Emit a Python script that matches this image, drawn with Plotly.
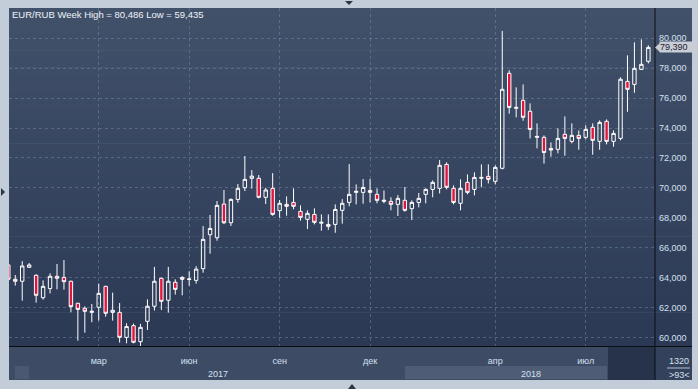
import pandas as pd
import plotly.graph_objects as go

# ---- data (weekly EUR/RUB candles) ----
week_start = "2016-11-28"
opens = [64.85, 63.89, 63.76, 64.69, 64.16, 62.66, 63.27, 64.09, 64.02, 63.76,
         62.29, 61.95, 61.68, 62.02, 63.42, 61.68, 61.68, 60.01, 60.79, 59.72,
         61.08, 62.09, 63.96, 62.49, 63.69, 64.02, 63.88, 63.82, 64.60, 66.87,
         66.67, 68.92, 67.67, 69.23, 70.01, 70.64, 70.64, 69.37, 69.97, 68.48,
         68.90, 69.03, 68.43, 67.90, 68.23, 67.64, 67.56, 67.56, 68.50, 69.03,
         69.70, 69.70, 69.83, 69.57, 69.10, 69.10, 68.90, 69.17, 68.61, 69.03,
         69.57, 69.90, 69.97, 71.57, 69.97, 68.97, 70.37, 69.90, 70.64, 70.77,
         70.44, 71.31, 77.66, 75.32, 75.85, 75.12, 73.38, 73.38, 72.64, 72.58,
         73.58, 73.11, 73.51, 73.38, 74.05, 73.11, 74.45, 73.11, 73.31, 77.12,
         76.92, 77.92, 78.46]
highs = [65.00, 64.18, 65.11, 64.98, 64.22, 63.82, 64.29, 64.91, 65.18, 63.80,
         62.31, 62.08, 62.24, 63.60, 63.45, 63.00, 62.31, 60.95, 60.93, 60.91,
         62.55, 64.72, 64.00, 64.72, 63.89, 64.09, 64.43, 64.77, 67.45, 68.19,
         69.12, 69.86, 69.30, 70.26, 72.13, 71.19, 70.86, 70.01, 70.99, 69.19,
         69.43, 69.97, 68.83, 68.50, 68.63, 68.23, 68.23, 68.90, 69.25, 71.59,
         70.23, 70.59, 70.59, 69.97, 69.83, 69.37, 69.52, 70.06, 69.17, 69.66,
         69.97, 70.50, 71.86, 71.71, 70.17, 70.57, 70.90, 71.04, 71.57, 71.57,
         71.51, 80.49, 77.86, 76.72, 76.92, 75.65, 74.31, 73.51, 73.04, 73.98,
         74.78, 74.31, 73.84, 74.18, 74.31, 74.51, 74.58, 73.84, 77.39, 78.86,
         79.73, 79.93, 79.53]
lows = [63.85, 63.47, 62.46, 64.69, 62.33, 62.53, 62.95, 63.22, 63.20, 61.68,
        59.79, 60.32, 61.02, 61.13, 61.39, 61.13, 59.66, 59.61, 59.61, 59.43,
        60.50, 61.80, 61.84, 61.66, 62.87, 62.82, 63.46, 63.60, 64.33, 65.60,
        66.47, 67.58, 67.45, 69.01, 69.79, 69.95, 69.30, 68.92, 68.14, 68.01,
        68.14, 68.57, 67.81, 67.25, 67.56, 67.14, 67.20, 67.00, 67.61, 68.77,
        68.90, 68.94, 69.03, 68.97, 68.97, 68.50, 68.12, 68.41, 67.85, 68.70,
        68.97, 69.37, 69.63, 69.90, 68.90, 68.50, 69.57, 69.50, 70.04, 70.30,
        70.24, 71.24, 74.96, 74.72, 74.49, 73.31, 72.64, 71.62, 72.09, 72.31,
        72.15, 72.98, 72.55, 73.24, 72.22, 72.55, 72.91, 72.75, 73.18, 75.09,
        76.36, 77.92, 78.32]
closes = [63.89, 63.76, 64.78, 64.85, 62.82, 63.42, 64.09, 63.96, 63.73, 62.06,
          61.88, 61.75, 61.75, 62.95, 61.62, 61.82, 60.01, 60.73, 59.68, 60.68,
          62.09, 63.76, 62.42, 63.76, 63.22, 63.89, 63.91, 64.57, 66.56, 67.29,
          68.83, 67.67, 69.23, 69.97, 70.57, 70.79, 69.37, 69.86, 68.23, 68.97,
          68.77, 68.77, 68.03, 68.30, 67.70, 67.70, 67.43, 68.56, 68.97, 69.57,
          69.77, 70.03, 69.70, 69.17, 69.17, 68.90, 69.30, 68.50, 69.03, 69.30,
          69.90, 70.37, 71.51, 70.04, 69.03, 69.97, 69.70, 70.70, 70.70, 70.57,
          71.37, 76.59, 75.38, 75.38, 74.72, 73.91, 73.44, 72.37, 72.53, 73.31,
          73.31, 73.51, 73.31, 73.91, 73.18, 74.38, 73.11, 73.64, 77.26, 76.59,
          77.99, 78.26, 79.39]

month_tick_dates = ["2017-02-27", "2017-05-29", "2017-08-28", "2017-11-27",
                    "2018-04-02", "2018-07-02"]
month_tick_labels = ["мар", "июн", "сен", "дек", "апр", "июл"]
y_tick_values = [60, 62, 64, 66, 68, 70, 72, 74, 76, 78, 80]
y_tick_labels = [f"{v},000" for v in y_tick_values]
year_labels = ["2017", "2018"]
title_text = "EUR/RUB Week High = 80,486 Low = 59,435"

dates = pd.date_range(week_start, periods=len(opens), freq="7D")

# ---- geometry helpers (pixel -> paper) ----
W, H = 698, 389
PL, PR, PT, PB = 9, 655, 8, 346


def px(x):
    return (x - PL) / (PR - PL)


def py(y):
    return (PB - y) / (PB - PT)


TXT = "#d3e0ee"
FONT = "Liberation Sans"

fig = go.Figure()
fig.add_trace(go.Candlestick(
    x=dates, open=opens, high=highs, low=lows, close=closes,
    increasing=dict(line=dict(color="#ffffff", width=1), fillcolor="rgba(0,0,0,0)"),
    decreasing=dict(line=dict(color="#ffffff", width=1), fillcolor="#e0143c"),
    whiskerwidth=0, showlegend=False, hoverinfo="skip",
))

shapes = []
# gradient background for plot + right axis panel
n = 40
top_c = (66, 81, 106)
bot_c = (43, 57, 85)
for i in range(n):
    t = i / (n - 1)
    c = tuple(round(top_c[k] + (bot_c[k] - top_c[k]) * t) for k in range(3))
    y0 = PT + (PB - PT) * i / n
    y1 = PT + (PB - PT) * (i + 1) / n + 0.6
    shapes.append(dict(type="rect", xref="paper", yref="paper", layer="below",
                       x0=px(PL), x1=px(692), y0=py(min(y1, PB)), y1=py(y0),
                       fillcolor="rgb(%d,%d,%d)" % c, line=dict(width=0)))

# bottom axis panel
shapes += [
    dict(type="rect", xref="paper", yref="paper", layer="below",
         x0=px(PL), x1=px(655), y0=py(380), y1=py(PB),
         fillcolor="#3d4b65", line=dict(width=0)),
    dict(type="rect", xref="paper", yref="paper", layer="below",
         x0=px(15), x1=px(29), y0=py(379), y1=py(366),
         fillcolor="#4a5872", line=dict(width=0)),
    dict(type="rect", xref="paper", yref="paper", layer="below",
         x0=px(405), x1=px(607), y0=py(379), y1=py(366),
         fillcolor="#4e5c76", line=dict(width=0)),
    dict(type="rect", xref="paper", yref="paper", layer="below",
         x0=px(608), x1=px(655), y0=py(380), y1=py(PB),
         fillcolor="#27334b", line=dict(width=0)),
    dict(type="rect", xref="paper", yref="paper", layer="below",
         x0=px(655), x1=px(692), y0=py(380), y1=py(PB),
         fillcolor="#34415a", line=dict(width=0)),
    # black separators
    dict(type="line", xref="paper", yref="paper", x0=px(655), x1=px(655),
         y0=py(380), y1=py(PT), line=dict(color="#0a0d14", width=1)),
    dict(type="line", xref="paper", yref="paper", x0=px(PL), x1=px(692),
         y0=py(PB + 0.5), y1=py(PB + 0.5), line=dict(color="#0a0d14", width=1)),
    # small separator in bottom-right box
    dict(type="line", xref="paper", yref="paper", x0=px(667), x1=px(690),
         y0=py(368), y1=py(368), line=dict(color="#aebcd0", width=1)),
    # navigation triangles on the outer frame
    dict(type="path", xref="paper", yref="paper",
         path="M %f,%f L %f,%f L %f,%f Z" % (px(345), py(1), px(353), py(1), px(349), py(5)),
         fillcolor="#2e3440", line=dict(width=0)),
    dict(type="path", xref="paper", yref="paper",
         path="M %f,%f L %f,%f L %f,%f Z" % (px(348), py(389), px(356), py(389), px(352), py(384)),
         fillcolor="#2e3440", line=dict(width=0)),
    dict(type="path", xref="paper", yref="paper",
         path="M %f,%f L %f,%f L %f,%f Z" % (px(1), py(188), px(1), py(196), px(5), py(192)),
         fillcolor="#2e3440", line=dict(width=0)),
]

last_close = closes[-1]
# arrow part of the price tag
shapes.append(dict(type="path", xref="paper", yref="y",
                   path="M %f,%f L %f,%f L %f,%f Z" % (px(655), last_close, px(660), last_close + 0.30,
                                                        px(660), last_close - 0.30),
                   fillcolor="#c9ced6", line=dict(width=0)))

annotations = [
    dict(text=title_text, xref="paper", yref="paper", x=px(10), y=py(15),
         xanchor="left", yanchor="middle", showarrow=False,
         font=dict(family=FONT, size=9.5, color="#eef3f9")),
    dict(text=year_labels[0], xref="paper", yref="paper", x=px(218), y=py(374),
         xanchor="center", yanchor="middle", showarrow=False,
         font=dict(family=FONT, size=9, color=TXT)),
    dict(text=year_labels[1], xref="paper", yref="paper", x=px(531), y=py(374),
         xanchor="center", yanchor="middle", showarrow=False,
         font=dict(family=FONT, size=9, color=TXT)),
    dict(text="1320", xref="paper", yref="paper", x=px(679), y=py(361),
         xanchor="center", yanchor="middle", showarrow=False,
         font=dict(family=FONT, size=9, color=TXT)),
    dict(text="&gt;93&lt;", xref="paper", yref="paper", x=px(679), y=py(375),
         xanchor="center", yanchor="middle", showarrow=False,
         font=dict(family=FONT, size=9, color=TXT)),
    dict(text=f"{last_close:.3f}".replace(".", ","), xref="paper", yref="y",
         x=px(659), y=last_close, xanchor="left", yanchor="middle", showarrow=False,
         bgcolor="#c9ced6", borderpad=0, width=36, align="left",
         font=dict(family=FONT, size=9, color="#1b2130")),
]

x_left = dates[0] + pd.Timedelta(days=0.7)
x_right = dates[-1] + pd.Timedelta(days=6.7)
y_bottom = 80 - (PB - 38.3) / 14.96
y_top = 80 + (38.3 - PT) / 14.96

fig.update_layout(
    width=W, height=H,
    margin=dict(l=PL, r=W - PR, t=PT, b=H - PB, pad=0),
    paper_bgcolor="#c3cdd9", plot_bgcolor="rgba(0,0,0,0)",
    shapes=shapes, annotations=annotations,
    boxgap=0.3,
    xaxis=dict(type="date", range=[x_left, x_right], rangeslider=dict(visible=False),
               tickvals=month_tick_dates, ticktext=month_tick_labels,
               showgrid=True, gridcolor="rgba(125,145,175,0.45)", griddash="3px,3px",
               gridwidth=1, zeroline=False, showline=False, ticks="",
               tickfont=dict(family=FONT, size=9, color=TXT), ticklabelstandoff=8),
    yaxis=dict(side="right", range=[y_bottom, y_top], tickvals=y_tick_values,
               ticktext=y_tick_labels, showgrid=True,
               gridcolor="rgba(125,145,175,0.45)", griddash="3px,3px", gridwidth=1,
               zeroline=False, showline=False, ticks="",
               tickfont=dict(family=FONT, size=9, color=TXT), ticklabelstandoff=3),
    font=dict(family=FONT),
)

fig.write_html("out.html", config={"displayModeBar": False, "staticPlot": True},
               post_script="document.body.style.margin='0';document.body.style.overflow='hidden';")
